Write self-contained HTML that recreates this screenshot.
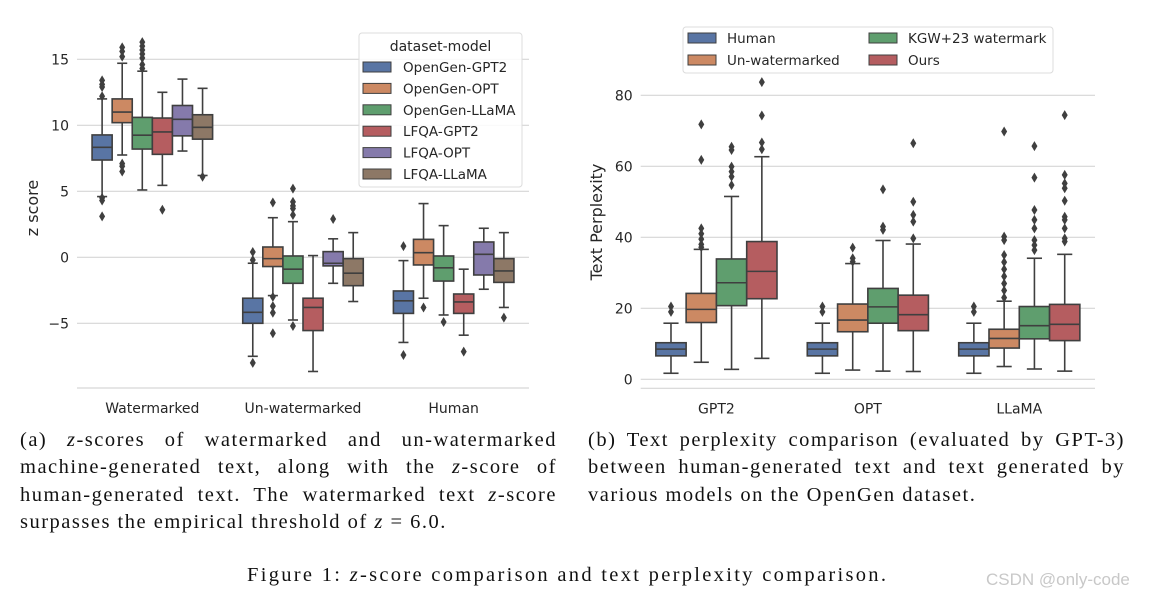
<!DOCTYPE html>
<html><head><meta charset="utf-8">
<style>
body{margin:0;width:1167px;height:600px;background:#fff;overflow:hidden;position:relative;font-family:"DejaVu Sans","Liberation Sans",sans-serif}
svg{position:absolute;left:0;top:0}
.cap{position:absolute;font-family:"Liberation Serif",serif;font-size:20.5px;letter-spacing:1.5px;color:#111;line-height:27.3px}
.cap div{text-align:justify;text-align-last:justify;white-space:nowrap}
.cap div.last{text-align-last:left}
</style></head><body>
<svg id="chart" width="1167" height="600"></svg>
<div class="cap" style="left:20px;top:427px;width:537px">
<div>(a) <i>z</i>-scores of watermarked and un-watermarked</div>
<div>machine-generated text, along with the <i>z</i>-score of</div>
<div>human-generated text. The watermarked text <i>z</i>-score</div>
<div class="last">surpasses the empirical threshold of <i>z</i> = 6.0.</div>
</div>
<div class="cap" style="left:588px;top:427px;width:537px">
<div>(b) Text perplexity comparison (evaluated by GPT-3)</div>
<div>between human-generated text and text generated by</div>
<div class="last">various models on the OpenGen dataset.</div>
</div>
<div class="cap" style="left:247px;top:562px;letter-spacing:2.3px">Figure 1: <i>z</i>-score comparison and text perplexity comparison.</div>
<div style="position:absolute;left:986px;top:570px;font-family:'Liberation Sans',sans-serif;font-size:17px;color:#c8c8c8">CSDN @only-code</div>
<script>
// ---- Chart A data: [lo, q1, med, q3, hi]
const groupsA = ["Watermarked","Un-watermarked","Human"];
const seriesA = ["OpenGen-GPT2","OpenGen-OPT","OpenGen-LLaMA","LFQA-GPT2","LFQA-OPT","LFQA-LLaMA"];
const statsA = [
 [[4.6,7.37,8.33,9.27,12.0],[7.75,10.2,11.0,12.0,14.7],[5.1,8.2,9.25,10.6,14.1],[5.45,7.8,9.5,10.55,12.5],[8.05,9.2,10.45,11.5,13.5],[6.2,8.95,9.85,10.8,12.8]],
 [[-7.5,-5.0,-4.17,-3.1,-0.45],[-2.9,-0.7,-0.1,0.78,3.0],[-4.75,-1.97,-0.9,0.1,2.7],[-8.65,-5.55,-3.8,-3.1,0.13],[-1.97,-0.65,-0.45,0.43,1.4],[-3.35,-2.15,-1.2,-0.1,1.87]],
 [[-6.45,-4.25,-3.3,-2.55,-0.25],[-3.1,-0.58,0.35,1.36,4.07],[-4.37,-1.8,-0.8,0.1,2.4],[-5.9,-4.25,-3.38,-2.78,-0.9],[-2.42,-1.34,0.23,1.16,2.2],[-3.8,-1.9,-1.03,-0.1,1.87]]
];
const outliersA = [
 [[13.4,13.1,12.9,12.2,4.3,4.5,3.1],[15.9,15.6,15.2,7.1,6.9,6.5],[16.3,16.0,15.7,15.4,15.1,14.6,14.3],[3.6],[],[6.1]],
 [[0.4,-0.2,-8.0],[4.15,-3.0,-3.7,-4.2,-5.75],[5.2,4.2,3.9,3.7,3.2,-5.2],[],[2.9],[]],
 [[0.85,-7.4],[-3.8],[-4.9],[-7.15],[],[-4.57]]
];
const ticksA = [15,10,5,0,-5];
// ---- Chart B data
const groupsB = ["GPT2","OPT","LLaMA"];
const seriesB = ["Human","Un-watermarked","KGW+23 watermark","Ours"];
const statsB = [
 [[1.7,6.6,8.5,10.3,15.8],[4.8,16.0,19.7,24.2,36.6],[2.8,20.75,27.2,33.9,51.5],[5.9,22.7,30.4,38.8,62.7]],
 [[1.7,6.6,8.5,10.3,15.8],[2.6,13.4,16.7,21.2,32.6],[2.3,15.8,20.4,25.6,39.1],[2.2,13.7,18.2,23.7,38.1]],
 [[1.7,6.6,8.5,10.3,15.8],[3.6,8.8,11.5,14.1,22],[2.9,11.4,15.1,20.5,34.1],[2.3,10.9,15.5,21.1,35.2]]
];
const outliersB = [
 [[20.5,19],[71.8,61.8,42.5,41,39.5,38,37.2],[65.5,64.6,59.9,58.5,57.1,54.7],[83.7,74.3,66.7,64.8]],
 [[20.5,19],[37.1,34.1,33.1],[53.5,43,42.1],[66.5,50,46.3,44.4,39.7]],
 [[20.5,19],[69.8,40.2,39.2,35,33,31,29,27,25,23],[65.7,56.8,47.7,44.9,42.5,39.2,37.8,36.4],[74.4,57.6,55.2,53.8,50.3,45.8,44.9,42.5,39.7,38.8]]
];
const ticksB = [0,20,40,60,80];

const colors=["#5975a4","#cc8963","#5f9e6e","#b55d60","#857aab","#8d7866"];
const LINE="#3f3f3f";
const svg=document.getElementById('chart');
const NS="http://www.w3.org/2000/svg";
function mk(tag,attrs,parent){const e=document.createElementNS(NS,tag);for(const k in attrs)e.setAttribute(k,attrs[k]);(parent||svg).appendChild(e);return e;}

function drawChart(cfg){
  const g=mk('g',{});
  
  
  const y=v=>cfg.y0-v*cfg.ppu;
  cfg.ticks.forEach(t=>{
    const l=mk('line',{x1:cfg.left,x2:cfg.right,y1:y(t),y2:y(t),stroke:"#d6d6d6","stroke-width":1.2},g);
    
    
    const tx=mk('text',{x:cfg.left-8,y:y(t)+5,"text-anchor":"end","font-size":14,fill:"#262626"},g);
    tx.textContent=(t<0?"\u2212"+(-t):t);
    
    
  });
  const base=mk('line',{x1:cfg.left,x2:cfg.right,y1:cfg.bottom,y2:cfg.bottom,stroke:"#d6d6d6","stroke-width":1.2},g);
  
  
  const n=cfg.series.length, gw=(cfg.right-cfg.left)/cfg.groups.length, bw=gw*0.8/n;
  cfg.groups.forEach((gn,gi)=>{
    const cx=cfg.left+gw*(gi+0.5);
    const xl=mk('text',{x:cx,y:cfg.bottom+25,"text-anchor":"middle","font-size":14,fill:"#262626"},g);
    xl.textContent=gn;
    
    
    cfg.series.forEach((sn,si)=>{
      const s=cfg.stats[gi][si];
      const bx=cx-gw*0.4+bw*si, mx=bx+bw/2;
      const bg=mk('g',{},g);
      
      
      mk('line',{x1:mx,x2:mx,y1:y(s[0]),y2:y(s[1]),stroke:LINE,"stroke-width":1.6},bg);
      mk('line',{x1:mx,x2:mx,y1:y(s[3]),y2:y(s[4]),stroke:LINE,"stroke-width":1.6},bg);
      mk('line',{x1:mx-bw/4,x2:mx+bw/4,y1:y(s[0]),y2:y(s[0]),stroke:LINE,"stroke-width":1.6},bg);
      mk('line',{x1:mx-bw/4,x2:mx+bw/4,y1:y(s[4]),y2:y(s[4]),stroke:LINE,"stroke-width":1.6},bg);
      mk('rect',{x:bx,y:y(s[3]),width:bw,height:y(s[1])-y(s[3]),fill:colors[si],stroke:LINE,"stroke-width":1.6},bg);
      mk('line',{x1:bx,x2:bx+bw,y1:y(s[2]),y2:y(s[2]),stroke:LINE,"stroke-width":1.6},bg);
      cfg.outliers[gi][si].forEach(o=>{
        const oy=y(o);
        const d=mk('path',{d:`M${mx} ${oy-5}L${mx+3} ${oy}L${mx} ${oy+5}L${mx-3} ${oy}Z`,fill:LINE},bg);
        
        
      });
    });
  });
  const yl=mk('text',{transform:`translate(${cfg.ylx},${cfg.yly}) rotate(-90)`,"text-anchor":"middle","font-size":16,fill:"#262626"},g);
  yl.textContent=cfg.ylabel;
  
  
}
drawChart({name:'zscore-chart',groups:groupsA,series:seriesA,stats:statsA,outliers:outliersA,ticks:ticksA,
  left:77,right:529,y0:257.3,ppu:13.2,bottom:388,ylabel:"z score",ylx:38,yly:208});
drawChart({name:'perplexity-chart',groups:groupsB,series:seriesB,stats:statsB,outliers:outliersB,ticks:ticksB,
  left:640.7,right:1095,y0:379.3,ppu:3.55,bottom:388.3,ylabel:"Text Perplexity",ylx:602,yly:222});

function legend(name,x,y,w,h,title,items,pos){
  const g=mk('g',{});
  
  
  mk('rect',{x:x,y:y,width:w,height:h,rx:3,fill:"#fff","fill-opacity":0.85,stroke:"#dcdcdc"},g);
  if(title){const t=mk('text',{x:x+w/2,y:y+18,"text-anchor":"middle","font-size":14,fill:"#262626"},g);t.textContent=title;
    
    }
  items.forEach((it,i)=>{
    const e=mk('g',{},g);
    
    
    const p=pos[i];
    mk('rect',{x:p[0],y:p[1]-5,width:28,height:10,fill:colors[i],stroke:LINE,"stroke-width":1},e);
    const t=mk('text',{x:p[2],y:p[1]+5,"font-size":13.5,fill:"#262626"},e);t.textContent=it;
  });
}
legend('legend-dataset-model',359,33,163,154,"dataset-model",seriesA,
  seriesA.map((s,i)=>[363,67+i*21.4,403]));
legend('legend-perplexity',683,27,370,46,null,seriesB,
  [[688,38,727],[688,60,727],[869,38,908],[869,60,908]]);
</script>
</body></html>
